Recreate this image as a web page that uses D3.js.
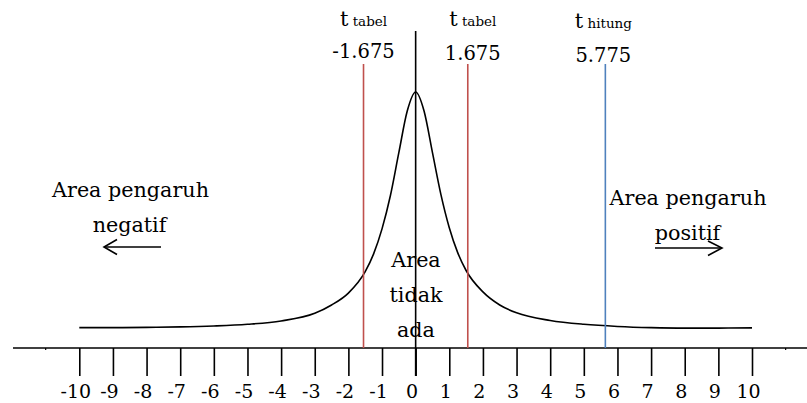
<!DOCTYPE html>
<html><head><meta charset="utf-8">
<script src="https://cdn.jsdelivr.net/npm/d3@7"></script>
<style>
body{margin:0;background:#fff;}
svg{display:block;font-family:"DejaVu Serif",serif;}
</style></head>
<body><svg id="c" width="807" height="403"></svg>
<script>
// ---- data ----
const tickValues = [-10,-9,-8,-7,-6,-5,-4,-3,-2,-1,0,1,2,3,4,5,6,7,8,9,10];
const tickLabels = ["-10","-9","-8","-7","-6","-5","-4","-3","-2","-1","0","1","2","3","4","5","6","7","8","9","10"];
const curveX = [-10,-9,-8,-7,-6,-5,-4,-3,-2.5,-2,-1.5,-1.25,-1,-0.75,-0.5,-0.25,0,0.25,0.5,0.75,1,1.25,1.5,2,2.5,3,4,5,6,7,8,9,10];
const curveY = [0.010,0.010,0.011,0.013,0.017,0.024,0.038,0.070,0.105,0.155,0.245,0.320,0.425,0.565,0.745,0.920,1.0,0.920,0.745,0.570,0.430,0.325,0.250,0.160,0.105,0.072,0.040,0.024,0.015,0.010,0.008,0.008,0.009];
const refLineX = [-1.55, 1.55, 5.64];
const refLineColor = ["#c0504d","#c0504d","#4f81bd"];
const refSub = ["tabel","tabel","hitung"];
const refValueLabel = ["-1.675","1.675","5.775"];

// ---- scales ----
const svg = d3.select("#c");
const x = d3.scaleLinear().domain([-10,10]).range([79.3,752]);
const y = d3.scaleLinear().domain([0,1]).range([330,92]);
const axisY = 348;

// main horizontal axis line
svg.append("line").attr("x1",13).attr("x2",807).attr("y1",axisY).attr("y2",axisY)
  .attr("stroke","#000").attr("stroke-width",1.6);
// tiny ticks beyond range
[-11,11].forEach(v=>svg.append("line").attr("x1",x(v)).attr("x2",x(v)).attr("y1",axisY).attr("y2",axisY+2).attr("stroke","#000").attr("stroke-width",1.2));

// axis
const ax = d3.axisBottom(x).tickValues(tickValues).tickFormat((d,i)=>tickLabels[i]).tickSize(28).tickPadding(8.5);
const g = svg.append("g").attr("transform",`translate(0,${axisY})`).call(ax);
g.attr("font-family","DejaVu Serif").attr("font-size",19);
g.select(".domain").remove();
g.selectAll(".tick line").attr("stroke","#000").attr("stroke-width",1.6);
g.selectAll(".tick text").attr("fill","#000").attr("dx",-4);

// curve
const pts = curveX.map((v,i)=>[v,curveY[i]]);
svg.append("path").datum(pts)
  .attr("d", d3.line().x(d=>x(d[0])).y(d=>y(d[1])).curve(d3.curveMonotoneX))
  .attr("fill","none").attr("stroke","#000").attr("stroke-width",1.6);

// reference lines
refLineX.forEach((v,i)=>{
  svg.append("line").attr("x1",x(v)).attr("x2",x(v)).attr("y1",64).attr("y2",axisY)
    .attr("stroke",refLineColor[i]).attr("stroke-width",1.6);
});
// center line at 0
svg.append("line").attr("x1",x(0)).attr("x2",x(0)).attr("y1",31).attr("y2",axisY+28)
  .attr("stroke","#000").attr("stroke-width",1.6);

// labels above reference lines
const labelDx = [0,5,-2];
const subY = [25.5,25.5,28];
refLineX.forEach((v,i)=>{
  const t = svg.append("text").attr("x",x(v)+labelDx[i]).attr("y",subY[i]).attr("text-anchor","middle").attr("fill","#000");
  t.append("tspan").attr("font-size",21).text("t");
  t.append("tspan").attr("font-size",13.5).text(" "+refSub[i]);
  svg.append("text").attr("x",x(v)+labelDx[i]).attr("y",[58,60,62][i]).attr("text-anchor","middle")
    .attr("font-size",19.5).attr("fill","#000").text(refValueLabel[i]);
});

// area texts
function txt(xp,yp,s){svg.append("text").attr("x",xp).attr("y",yp).attr("text-anchor","middle").attr("font-size",20.7).attr("fill","#000").text(s);}
txt(130.5,197,"Area pengaruh");
txt(129.5,232,"negatif");
txt(688,205,"Area pengaruh");
txt(687.5,240,"positif");
txt(416,267,"Area");
txt(416,302,"tidak");
txt(416,337,"ada");

// arrows
const ln = d3.line();
svg.append("path").attr("d",ln([[161,247],[104,247]])).attr("stroke","#000").attr("stroke-width",1.6).attr("fill","none");
svg.append("path").attr("d",ln([[117,239.5],[104,247],[117,254.5]])).attr("stroke","#000").attr("stroke-width",1.6).attr("fill","none");
svg.append("path").attr("d",ln([[655,248],[722,248]])).attr("stroke","#000").attr("stroke-width",1.6).attr("fill","none");
svg.append("path").attr("d",ln([[708,241],[722,248],[708,255.5]])).attr("stroke","#000").attr("stroke-width",1.6).attr("fill","none");
</script></body></html>
